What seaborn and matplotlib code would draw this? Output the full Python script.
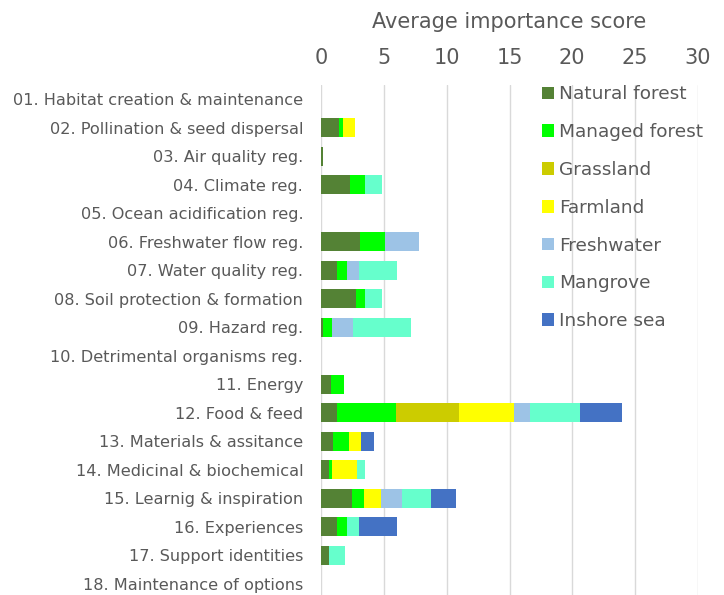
import numpy as np
import pandas as pd
import matplotlib
matplotlib.use('Agg')
import matplotlib.pyplot as plt
import seaborn as sns
from matplotlib.patches import Patch

categories = [
    "01. Habitat creation & maintenance",
    "02. Pollination & seed dispersal",
    "03. Air quality reg.",
    "04. Climate reg.",
    "05. Ocean acidification reg.",
    "06. Freshwater flow reg.",
    "07. Water quality reg.",
    "08. Soil protection & formation",
    "09. Hazard reg.",
    "10. Detrimental organisms reg.",
    "11. Energy",
    "12. Food & feed",
    "13. Materials & assitance",
    "14. Medicinal & biochemical",
    "15. Learnig & inspiration",
    "16. Experiences",
    "17. Support identities",
    "18. Maintenance of options",
]

natural_forest = [0, 1.45, 0.13, 2.25, 0, 3.12, 1.27, 2.75, 0.10, 0, 0.74, 1.24, 0.93, 0.58, 2.41, 1.27, 0.61, 0]
managed_forest = [0, 0.24, 0, 1.27, 0, 1.98, 0.74, 0.77, 0.77, 0, 1.03, 4.74, 1.24, 0.29, 1.03, 0.74, 0, 0]
grassland      = [0, 0, 0, 0, 0, 0, 0, 0, 0, 0, 0, 5.03, 0, 0, 0, 0, 0, 0]
farmland       = [0, 1.00, 0, 0, 0, 0, 0, 0, 0, 0, 0, 4.31, 1.03, 1.98, 1.32, 0, 0, 0]
freshwater     = [0, 0, 0, 0, 0, 2.65, 1.03, 0, 1.64, 0, 0, 1.30, 0, 0, 1.67, 0, 0, 0]
mangrove       = [0, 0, 0, 1.35, 0, 0, 2.99, 1.35, 4.63, 0, 0, 4.02, 0, 0.63, 2.35, 1.03, 1.30, 0]
inshore_sea    = [0, 0, 0, 0, 0, 0, 0, 0, 0, 0, 0, 3.36, 0.98, 0, 1.96, 2.96, 0, 0]

series_names = ["Natural forest", "Managed forest", "Grassland", "Farmland",
                "Freshwater", "Mangrove", "Inshore sea"]
series_colors = ["#548235", "#00FF00", "#CCCC00", "#FFFF00",
                 "#9DC3E6", "#66FFCC", "#4472C4"]
x_ticks = [0, 5, 10, 15, 20, 25, 30]

sns.set_style("white")
plt.rcParams['font.family'] = ['DejaVu Sans']
text_color = "#595959"

fig = plt.figure(figsize=(7.24, 5.95), dpi=100)
ax = fig.add_axes([321.3 / 724, 1 - 598.25 / 595, (697.7 - 321.3) / 724, (598.25 - 84.75) / 595])

series = [natural_forest, managed_forest, grassland, farmland, freshwater, mangrove, inshore_sea]
cum = np.cumsum(np.array(series, dtype=float), axis=0)

for i in range(len(series) - 1, -1, -1):
    df = pd.DataFrame({"category": categories, "value": cum[i]})
    sns.barplot(data=df, x="value", y="category", orient="h", color=series_colors[i],
                saturation=1, width=0.67, errorbar=None, linewidth=0, ax=ax)

ax.set_xlim(0, 30)
ax.set_xticks(x_ticks)
ax.set_xticklabels([str(t) for t in x_ticks])
ax.xaxis.tick_top()
ax.xaxis.set_label_position('top')
ax.set_xlabel("Average importance score", fontsize=15, color=text_color, labelpad=14.5)
ax.set_ylabel("")
ax.tick_params(axis='x', length=0, pad=12.3, labelsize=15, colors=text_color)
ax.tick_params(axis='y', length=0, pad=13, labelsize=11.6, colors=text_color)
ax.xaxis.grid(True, color="#d9d9d9", linewidth=1.0)
ax.yaxis.grid(False)
ax.set_axisbelow(True)
for s in ax.spines.values():
    s.set_visible(False)

handles = [Patch(facecolor=c, edgecolor='none') for c in series_colors]
fig.legend(handles, series_names, loc='upper left',
           bbox_to_anchor=(541.7 / 724, 1 - 85.5 / 595), frameon=False,
           fontsize=13.3, labelcolor=text_color, handlelength=0.68, handleheight=0.68,
           handletextpad=0.25, labelspacing=1.07, borderpad=0, borderaxespad=0)

fig.savefig("out.png", dpi=100)
